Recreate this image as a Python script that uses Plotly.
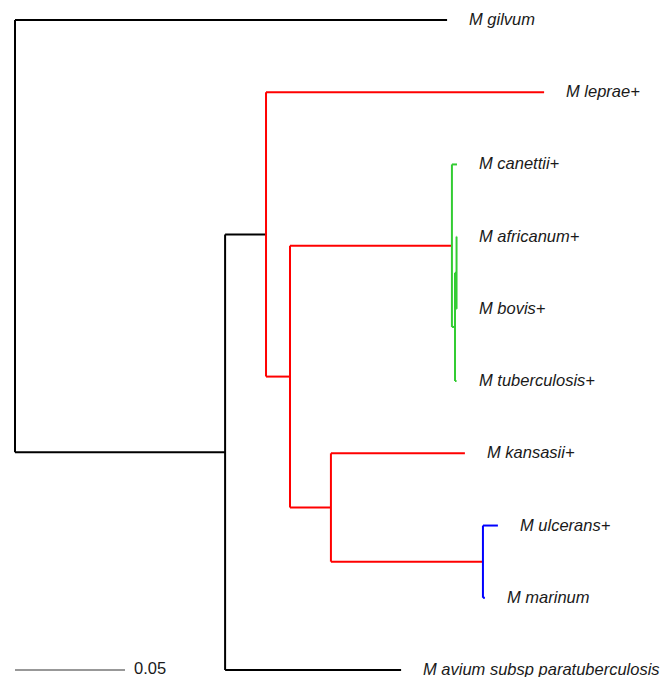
import plotly.graph_objects as go

# Tip taxa, listed top to bottom
tip_labels = [
    "M gilvum", "M leprae+", "M canettii+", "M africanum+", "M bovis+",
    "M tuberculosis+", "M kansasii+", "M ulcerans+", "M marinum",
    "M avium subsp paratuberculosis",
]

# Tree edges: parent node, child node, branch length (substitutions/site)
edge_parent = ["root", "root", "A", "A", "B", "B", "C", "C",
               "D", "D", "E", "E", "F", "F", "G", "G", "H", "H"]
edge_child = ["M gilvum", "A", "B", "M avium subsp paratuberculosis",
              "M leprae+", "C", "D", "G",
              "M canettii+", "E", "F", "M tuberculosis+",
              "M africanum+", "M bovis+",
              "M kansasii+", "H", "M ulcerans+", "M marinum"]
edge_length = [0.1964, 0.0955, 0.0186, 0.0800,
               0.1264, 0.0109, 0.0736, 0.0186,
               0.0023, 0.0014, 0.0007, 0.0007,
               0.0002, 0.0002,
               0.0609, 0.0691, 0.0068, 0.0009]

# Clade colour of each internal node
node_names = ["root", "A", "B", "C", "D", "E", "F", "G", "H"]
node_colors = ["black", "black", "red", "red", "#33cc33", "#33cc33",
               "#33cc33", "red", "blue"]

scale_length = 0.05
scale_label = "0.05"

node_color = dict(zip(node_names, node_colors))
children = {}
blen = {}
for p, c, l in zip(edge_parent, edge_child, edge_length):
    children.setdefault(p, []).append(c)
    blen[c] = l

# x = distance from root; y = tip index, internal nodes at mid of children
xpos, ypos = {"root": 0.0}, {}


def place_x(n):
    for c in children.get(n, []):
        xpos[c] = xpos[n] + blen[c]
        place_x(c)


def place_y(n):
    if n not in children:
        ypos[n] = tip_labels.index(n)
        return ypos[n]
    ys = [place_y(c) for c in children[n]]
    ypos[n] = (min(ys) + max(ys)) / 2
    return ypos[n]


place_x("root")
place_y("root")

segs = {}
for n in node_names:
    col = node_color[n]
    ys = [ypos[c] for c in children[n]]
    segs.setdefault(col, []).append(([xpos[n], xpos[n]], [min(ys), max(ys)]))
    for c in children[n]:
        segs[col].append(([xpos[n], xpos[c]], [ypos[c], ypos[c]]))

fig = go.Figure()
for col, lst in segs.items():
    xs, ys = [], []
    for sx, sy in lst:
        xs += sx + [None]
        ys += sy + [None]
    fig.add_trace(go.Scatter(x=xs, y=ys, mode="lines",
                             line=dict(color=col, width=2),
                             hoverinfo="skip", showlegend=False))

font = dict(family="Liberation Sans, Arial, sans-serif", size=16.5, color="#1a1a1a")
for t in tip_labels:
    fig.add_annotation(x=xpos[t], y=ypos[t], text=t, showarrow=False,
                       xanchor="left", yanchor="middle", xshift=20, yshift=1,
                       font=dict(font, style="italic"))

# Scale bar
ybar = len(tip_labels) - 1
fig.add_trace(go.Scatter(x=[0, scale_length], y=[ybar, ybar], mode="lines",
                         line=dict(color="#333333", width=1.2),
                         hoverinfo="skip", showlegend=False))
fig.add_annotation(x=scale_length, y=ybar, text=scale_label, showarrow=False,
                   xanchor="left", yanchor="middle", xshift=7, yshift=2,
                   font=font)

W, H = 665, 677
x0_px, px_per_unit = 15, 2200
y0_px, px_per_tip = 20, 72.22
fig.update_layout(
    width=W, height=H, margin=dict(l=0, r=0, t=0, b=0),
    paper_bgcolor="white", plot_bgcolor="white",
    xaxis=dict(range=[-x0_px / px_per_unit, (W - x0_px) / px_per_unit],
               visible=False, fixedrange=True),
    yaxis=dict(range=[(H - y0_px) / px_per_tip, -y0_px / px_per_tip],
               visible=False, fixedrange=True),
)
fig.write_html("out.html")
